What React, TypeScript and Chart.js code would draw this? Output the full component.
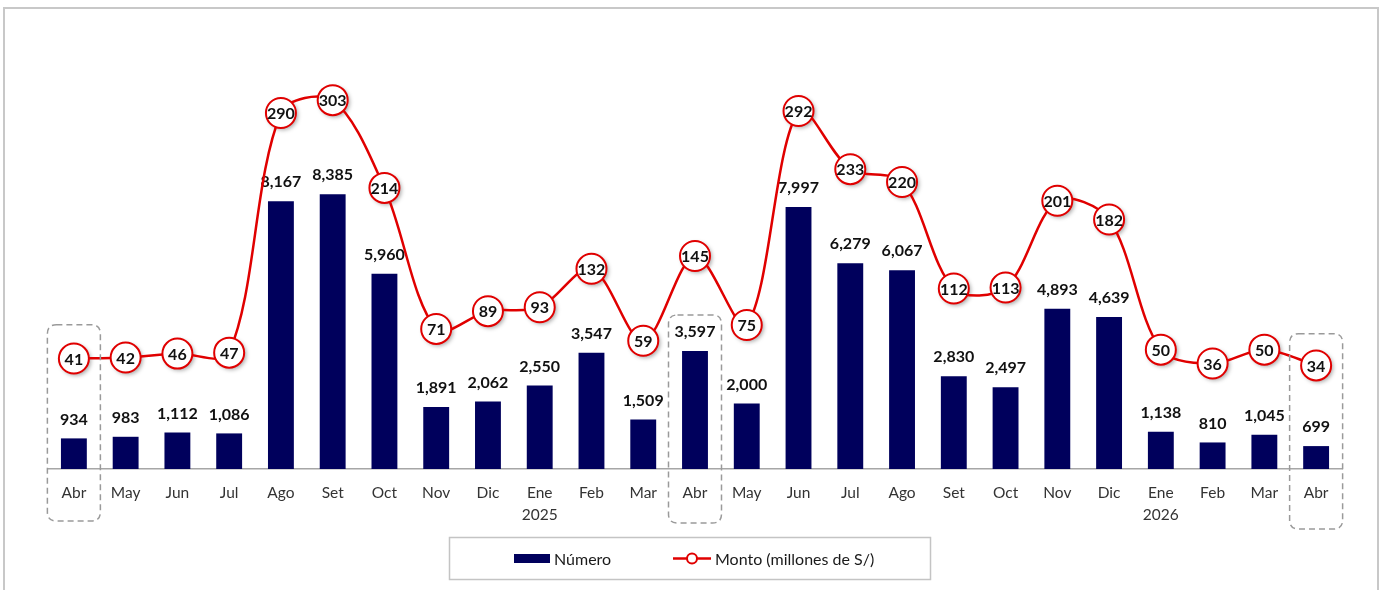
import React, { useEffect, useRef } from "react";
import { Chart, registerables } from "chart.js";

Chart.register(...registerables);

const categories: (string | string[])[] = [
  "Abr", "May", "Jun", "Jul", "Ago", "Set", "Oct", "Nov", "Dic", ["Ene", "2025"], "Feb", "Mar",
  "Abr", "May", "Jun", "Jul", "Ago", "Set", "Oct", "Nov", "Dic", ["Ene", "2026"], "Feb", "Mar", "Abr",
];

const numero = [
  934, 983, 1112, 1086, 8167, 8385, 5960, 1891, 2062, 2550, 3547, 1509,
  3597, 2000, 7997, 6279, 6067, 2830, 2497, 4893, 4639, 1138, 810, 1045, 699,
];

const monto = [
  41, 42, 46, 47, 290, 303, 214, 71, 89, 93, 132, 59,
  145, 75, 292, 233, 220, 112, 113, 201, 182, 50, 36, 50, 34,
];

const seriesNames = ["Número", "Monto (millones de S/)"];

// highlighted months (index) and the top of each dashed box in bar-axis units
const highlightIndex = [0, 12, 24];
const highlightTop = [4400, 4700, 4130];
const highlightBottomOffset = [52, 54, 60];

const NAVY = "#00005C";
const RED = "#E00000";
const FONT = "Lato, 'Open Sans', sans-serif";

function roundRect(ctx: CanvasRenderingContext2D, x: number, y: number, w: number, h: number, r: number) {
  ctx.beginPath();
  ctx.moveTo(x + r, y);
  ctx.lineTo(x + w - r, y);
  ctx.quadraticCurveTo(x + w, y, x + w, y + r);
  ctx.lineTo(x + w, y + h - r);
  ctx.quadraticCurveTo(x + w, y + h, x + w - r, y + h);
  ctx.lineTo(x + r, y + h);
  ctx.quadraticCurveTo(x, y + h, x, y + h - r);
  ctx.lineTo(x, y + r);
  ctx.quadraticCurveTo(x, y, x + r, y);
  ctx.closePath();
}

const decorPlugin = {
  id: "decor",
  beforeDraw(chart: any) {
    const ctx = chart.ctx as CanvasRenderingContext2D;
    ctx.save();
    ctx.fillStyle = "#ffffff";
    ctx.fillRect(0, 0, chart.width, chart.height);
    ctx.strokeStyle = "#c8c8c8";
    ctx.lineWidth = 2;
    ctx.strokeRect(4, 8, 1374, 620);
    ctx.restore();
  },
  beforeDatasetDraw(chart: any, args: any) {
    const ctx = chart.ctx as CanvasRenderingContext2D;
    if (args.index === 1) {
      const meta = chart.getDatasetMeta(1);
      ctx.save();
      ctx.shadowColor = "rgba(0,0,0,0.35)";
      ctx.shadowBlur = 4;
      ctx.shadowOffsetX = 2;
      ctx.shadowOffsetY = 2;
      ctx.fillStyle = "#ffffff";
      meta.data.forEach((el: any) => {
        ctx.beginPath();
        ctx.arc(el.x, el.y, 15, 0, Math.PI * 2);
        ctx.fill();
      });
      ctx.restore();
    }
  },
  afterDatasetDraw(chart: any, args: any) {
    const ctx = chart.ctx as CanvasRenderingContext2D;
    const meta = chart.getDatasetMeta(args.index);
    const values = chart.data.datasets[args.index].data as number[];
    ctx.save();
    ctx.font = `bold 16px ${FONT}`;
    ctx.fillStyle = "#111111";
    ctx.textAlign = "center";
    ctx.textBaseline = "middle";
    if (args.index === 0) {
      meta.data.forEach((el: any, i: number) => {
        ctx.fillText(values[i].toLocaleString("en-US"), el.x, el.y - 19);
      });
    } else if (args.index === 1) {
      meta.data.forEach((el: any, i: number) => {
        ctx.fillText(String(values[i]), el.x, el.y + 1);
      });
    }
    ctx.restore();
  },
  afterDraw(chart: any) {
    const ctx = chart.ctx as CanvasRenderingContext2D;
    const xs = chart.scales.x;
    const yb = chart.scales.y;
    const base = chart.chartArea.bottom;
    ctx.save();
    ctx.strokeStyle = "#9a9a9a";
    ctx.lineWidth = 1.5;
    ctx.setLineDash([6, 4]);
    highlightIndex.forEach((idx, k) => {
      const cx = xs.getPixelForValue(idx);
      const top = yb.getPixelForValue(highlightTop[k]);
      const bottom = base + highlightBottomOffset[k];
      roundRect(ctx, cx - 26.5, top, 53, bottom - top, 9);
      ctx.stroke();
    });
    ctx.restore();

    ctx.save();
    const lx = 449.5, ly = 537.5, lw = 481, lh = 42;
    ctx.strokeStyle = "#c4c4c4";
    ctx.lineWidth = 1.5;
    ctx.strokeRect(lx, ly, lw, lh);
    const cy = ly + lh / 2;
    ctx.fillStyle = NAVY;
    ctx.fillRect(514, cy - 4.5, 36, 9);
    ctx.font = `16px ${FONT}`;
    ctx.fillStyle = "#1a1a1a";
    ctx.textAlign = "left";
    ctx.textBaseline = "middle";
    ctx.fillText(seriesNames[0], 554, cy + 1);
    ctx.strokeStyle = RED;
    ctx.lineWidth = 2.5;
    ctx.beginPath();
    ctx.moveTo(673, cy);
    ctx.lineTo(711, cy);
    ctx.stroke();
    ctx.beginPath();
    ctx.arc(692, cy, 5, 0, Math.PI * 2);
    ctx.fillStyle = "#ffffff";
    ctx.fill();
    ctx.lineWidth = 2;
    ctx.stroke();
    ctx.fillStyle = "#1a1a1a";
    ctx.fillText(seriesNames[1], 715, cy + 1);
    ctx.restore();
  },
};

export default function App() {
  const canvasRef = useRef<HTMLCanvasElement | null>(null);

  useEffect(() => {
    document.body.style.margin = "0";
    const canvas = canvasRef.current;
    if (!canvas) return;
    const chart = new Chart(canvas, {
      type: "bar",
      data: {
        labels: categories,
        datasets: [
          {
            type: "bar",
            label: seriesNames[0],
            data: numero,
            backgroundColor: NAVY,
            borderWidth: 0,
            barPercentage: 0.5,
            categoryPercentage: 1,
            yAxisID: "y",
            order: 2,
          },
          {
            type: "line",
            label: seriesNames[1],
            data: monto,
            borderColor: RED,
            borderWidth: 2.5,
            tension: 0.32,
            pointRadius: 15,
            pointHoverRadius: 15,
            pointBackgroundColor: "#ffffff",
            pointBorderColor: RED,
            pointBorderWidth: 2,
            yAxisID: "y2",
            order: 1,
          } as any,
        ],
      },
      options: {
        animation: false,
        responsive: false,
        maintainAspectRatio: false,
        devicePixelRatio: 1,
        layout: { padding: { top: 40, left: 48, right: 41, bottom: 59 } },
        plugins: {
          legend: { display: false },
          tooltip: { enabled: false },
        },
        scales: {
          x: {
            offset: true,
            grid: { display: false },
            border: { display: true, color: "#a6a6a6", width: 1.5 },
            ticks: {
              color: "#333333",
              padding: 5,
              font: { family: FONT, size: 15.5, lineHeight: 22 / 15.5 },
              maxRotation: 0,
              autoSkip: false,
            },
          },
          y: {
            display: false,
            min: 0,
            max: 13090,
          },
          y2: {
            display: false,
            position: "right",
            min: -71,
            max: 364,
          },
        },
      },
      plugins: [decorPlugin],
    });
    return () => chart.destroy();
  }, []);

  return (
    <div style={{ position: "relative", width: 1383, height: 590 }}>
      <canvas ref={canvasRef} width={1383} height={590} style={{ display: "block", width: 1383, height: 590 }} />
    </div>
  );
}
